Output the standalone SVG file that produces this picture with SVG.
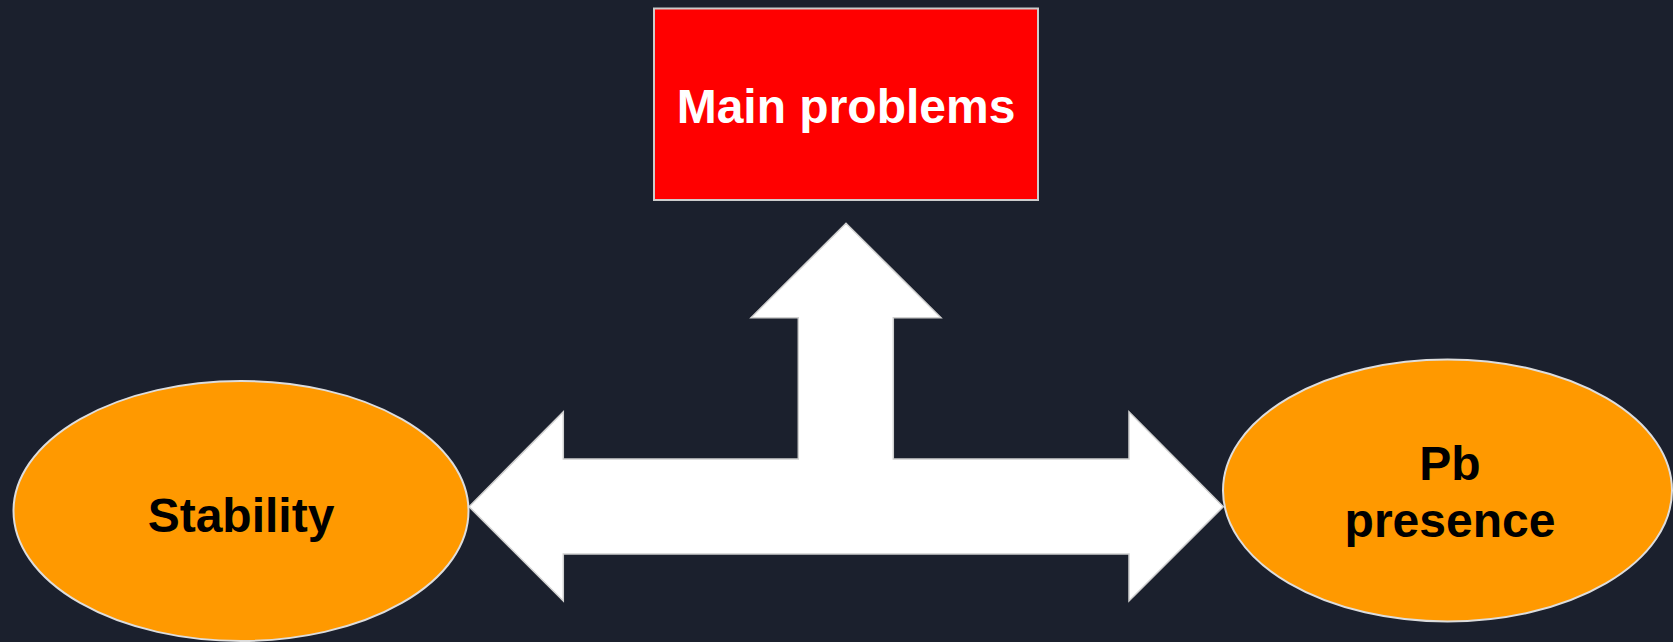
<svg xmlns="http://www.w3.org/2000/svg" width="1673" height="642" viewBox="0 0 1673 642">
  <style>
    .bg { fill: #1b202d; }
    .box { fill: #ff0000; stroke: #cccccc; stroke-width: 2; }
    .oval { fill: #ff9900; stroke: #dddddd; stroke-width: 2; }
    .arrow { fill: #ffffff; stroke: #d0d0d0; stroke-width: 1.5; stroke-linejoin: miter; }
    .lbl { font-family: "Liberation Sans", Arial, sans-serif; font-weight: bold; font-size: 48px; text-anchor: middle; }
    .white { fill: #ffffff; }
    .black { fill: #000000; }
  </style>
  <rect class="bg" x="0" y="0" width="1673" height="642"/>
  <g id="connectors">
    <path class="arrow" d="M469,506.7 L563.3,411.7 L563.3,459 L798.3,459 L798.3,317.7 L751,317.7 L846,223.3 L941,317.7 L893.3,317.7 L893.3,459 L1129,459 L1129,411.7 L1223.3,506.7 L1129,601 L1129,554 L563.3,554 L563.3,601 Z"/>
  </g>
  <g id="main-problems">
    <rect class="box" x="654" y="8.5" width="384" height="191.5"/>
    <text class="lbl white" x="846" y="122.5">Main problems</text>
  </g>
  <g id="stability">
    <ellipse class="oval" cx="241" cy="511" rx="227.5" ry="130"/>
    <text class="lbl black" x="241" y="531.5">Stability</text>
  </g>
  <g id="pb-presence">
    <ellipse class="oval" cx="1447.5" cy="490.5" rx="224.5" ry="131"/>
    <text class="lbl black" x="1450" y="480">Pb</text>
    <text class="lbl black" x="1450" y="536.5">presence</text>
  </g>
</svg>
